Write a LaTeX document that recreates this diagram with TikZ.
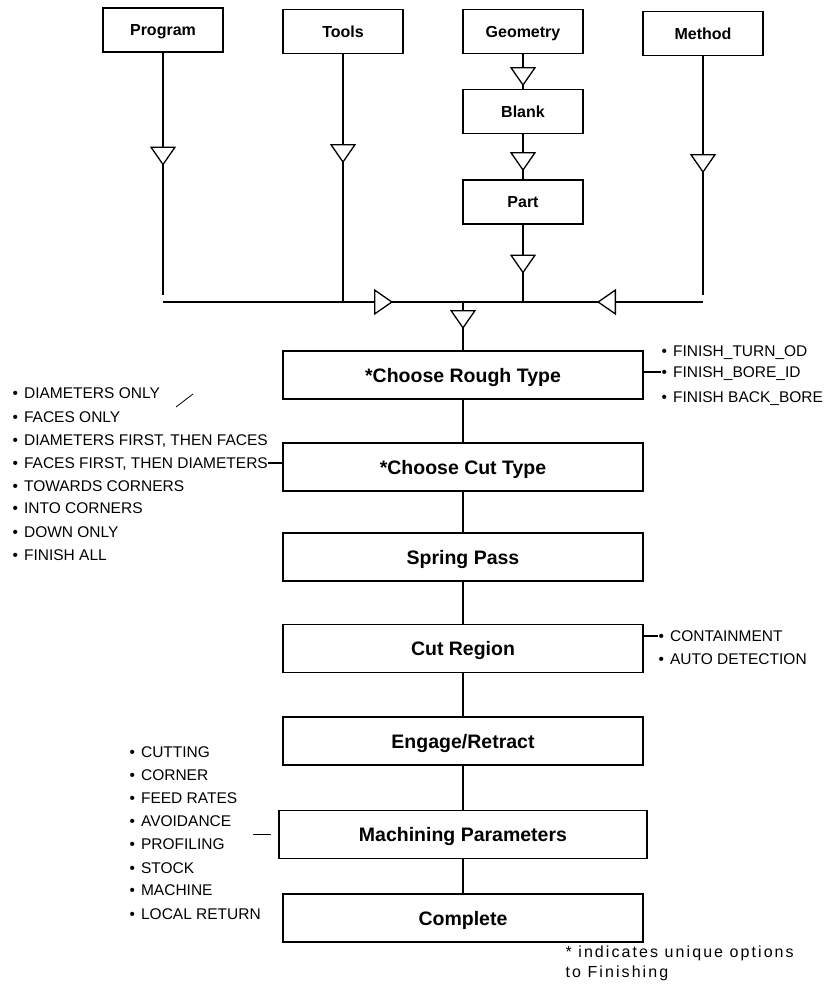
\documentclass[tikz,border=0pt]{standalone}
\usepackage{fontspec}
\setmainfont{Liberation Sans}
\usetikzlibrary{arrows.meta,decorations.markings}

\tikzset{
  tri/.tip={Triangle[fill=white,length=19pt,width=26pt]},
  flow/.style={decoration={markings,mark=at position #1 with {\arrow{tri}}},postaction={decorate}}
}
\newcommand{\itm}{\textbullet\hspace{6pt}}

\begin{document}
\begin{tikzpicture}[x=1pt,y=-1pt,line width=1.3pt,
  src/.style={draw,minimum width=120pt,minimum height=44pt,text height=11.5pt,text depth=0pt,font=\fontsize{16}{18}\selectfont\bfseries},
  stage/.style={draw,minimum width=360pt,minimum height=48pt,text height=14pt,text depth=0pt,font=\fontsize{19.5}{22}\selectfont\bfseries},
  opt/.style={anchor=west,inner sep=0pt,text height=11pt,text depth=0pt,font=\fontsize{15.5}{17}\selectfont}]
\useasboundingbox (0,0) rectangle (834,1005);

\node[src] (prog) at (163,30) {Program};
\node[src] (tools) at (343,31.5) {Tools};
\node[src] (geom) at (523,31.5) {Geometry};
\node[src] (meth) at (703,33.5) {Method};
\node[src] (blank) at (523,111.5) {Blank};
\node[src] (part) at (523,202) {Part};

\coordinate (busL) at (163,302);
\coordinate (busT) at (343,302);
\coordinate (busC) at (463,302);
\coordinate (busP) at (523,302);
\coordinate (busR) at (703,302);
\coordinate (progEnd) at (163,295);
\coordinate (methEnd) at (703,295);

\draw[flow=113pt] (prog) -- (progEnd);
\draw[flow=109pt] (tools) -- (busT);
\draw[flow=32pt] (geom) -- (blank);
\draw[flow=37pt] (blank) -- (part);
\draw[flow=49pt] (part) -- (busP);
\draw[flow=117pt] (meth) -- (methEnd);
\draw[flow=230pt] (busL) -- (busC);
\draw[flow=106pt] (busR) -- (busC);

\node[stage] (rough) at (463,375) {*Choose Rough Type};
\node[stage] (cut) at (463,467) {*Choose Cut Type};
\node[stage] (spring) at (463,557) {Spring Pass};
\node[stage] (region) at (463,648.5) {Cut Region};
\node[stage] (engage) at (463,741) {Engage/Retract};
\node[stage,minimum width=368pt] (mach) at (463,834.5) {Machining Parameters};
\node[stage] (done) at (463,918) {Complete};

\draw[flow=27pt] (busC) -- (rough);
\draw (rough) -- (cut);
\draw (cut) -- (spring);
\draw (spring) -- (region);
\draw (region) -- (engage);
\draw (engage) -- (mach);
\draw (mach) -- (done);

% rough type options
\node[opt] (rf1) at (661,351) {\itm FINISH\_TURN\_OD};
\node[opt] (rf2) at (661,372) {\itm FINISH\_BORE\_ID};
\node[opt] (rf3) at (661,397) {\itm FINISH BACK\_BORE};
\draw (rough.east |- rf2) -- (rf2.west);

% cut type options
\node[opt] (ct1) at (12,393) {\itm DIAMETERS ONLY};
\node[opt] (ct2) at (12,417) {\itm FACES ONLY};
\node[opt] (ct3) at (12,440) {\itm DIAMETERS FIRST, THEN FACES};
\node[opt] (ct4) at (12,463) {\itm FACES FIRST, THEN DIAMETERS};
\node[opt] (ct5) at (12,486) {\itm TOWARDS CORNERS};
\node[opt] (ct6) at (12,508) {\itm INTO CORNERS};
\node[opt] (ct7) at (12,532) {\itm DOWN ONLY};
\node[opt] (ct8) at (12,555) {\itm FINISH ALL};
\draw (ct4.east) -- (ct4.east -| cut.west);
\draw[line width=0.8pt] (176,407) -- (193,394);

% cut region options
\node[opt] (cr1) at (658,636) {\itm CONTAINMENT};
\node[opt] (cr2) at (658,659) {\itm AUTO DETECTION};
\draw (region.east |- cr1) -- (cr1.west);

% machining parameters
\node[opt] (mp1) at (129,752) {\itm CUTTING};
\node[opt] (mp2) at (129,775) {\itm CORNER};
\node[opt] (mp3) at (129,798) {\itm FEED RATES};
\node[opt] (mp4) at (129,821) {\itm AVOIDANCE};
\node[opt] (mp5) at (129,844) {\itm PROFILING};
\node[opt] (mp6) at (129,868) {\itm STOCK};
\node[opt] (mp7) at (129,890) {\itm MACHINE};
\node[opt] (mp8) at (129,914) {\itm LOCAL RETURN};
\coordinate (mpa) at ([xshift=-25pt]mach.west);
\coordinate (mpb) at ([xshift=-7pt]mach.west);
\draw (mpa) -- (mpb);

\node[anchor=base west,inner sep=0pt,align=left,font=\fontsize{16}{20}\selectfont\addfontfeature{LetterSpace=13}] (note) at (565,977)
  {* indicates unique options\\to Finishing};

\end{tikzpicture}
\end{document}
